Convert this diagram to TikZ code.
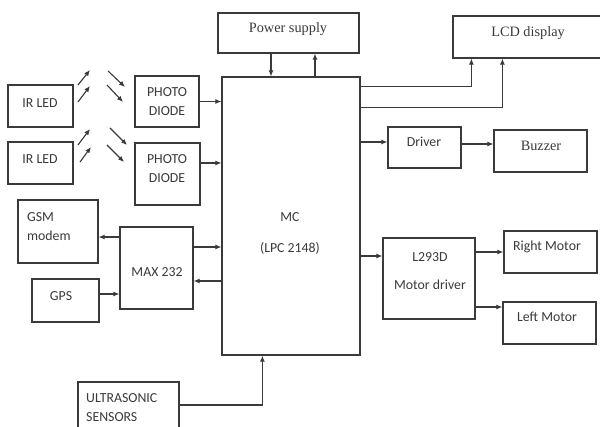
\documentclass[tikz,border=0pt]{standalone}
\usepackage{fontspec}
\setmainfont{Liberation Serif}
\newfontfamily\carl{Carlito}
\usetikzlibrary{arrows.meta}
\definecolor{ink}{HTML}{3A3A3A}
\tikzset{
  box/.style={draw=ink, line width=1.2pt, rectangle, inner sep=0pt},
  arr/.style={draw=ink, line width=1.1pt, -{Latex[length=6pt,width=5pt]}},
  ray/.style={draw=ink, line width=1.1pt, -{Latex[length=6pt,width=5pt]}},
  sans/.style={text=ink, font=\carl\fontsize{13.8}{19}\selectfont, inner sep=0pt, align=center},
  serif/.style={text=ink, font=\fontsize{14.3}{17}\selectfont, inner sep=0pt},
}
\begin{document}
\begin{tikzpicture}[x=1pt,y=-1pt]
\useasboundingbox (0,0) rectangle (600,427);
\fill[white] (0,0) rectangle (600,427);

% boxes
\node[box, minimum width=141pt, minimum height=40pt] (ps) at (288.5,33) {};
\node[box, minimum width=149pt, minimum height=42pt] (lcd) at (527.5,37) {};
\node[box, minimum width=138pt, minimum height=278pt] (mc) at (291,216) {};
\node[box, minimum width=65pt, minimum height=42pt] (ir1) at (40.5,106) {};
\node[box, minimum width=65pt, minimum height=42pt] (ir2) at (40.5,163) {};
\node[box, minimum width=64pt, minimum height=51pt] (pd1) at (167,101.5) {};
\node[box, minimum width=65pt, minimum height=62pt] (pd2) at (167.5,174) {};
\node[box, minimum width=80pt, minimum height=63pt] (gsm) at (58,231.5) {};
\node[box, minimum width=73pt, minimum height=82pt] (max) at (156.5,268) {};
\node[box, minimum width=67pt, minimum height=43pt] (gps) at (65.5,300.5) {};
\node[box, minimum width=73pt, minimum height=41pt] (drv) at (424.5,147.5) {};
\node[box, minimum width=93pt, minimum height=42pt] (buz) at (540.5,151) {};
\node[box, minimum width=92pt, minimum height=81pt] (l293) at (429,278.5) {};
\node[box, minimum width=93pt, minimum height=42pt] (rm) at (550.5,252) {};
\node[box, minimum width=93pt, minimum height=42pt] (lm) at (549.5,323) {};
\node[box, minimum width=101pt, minimum height=53pt] (us) at (128.5,408.5) {};

% texts
\node[serif] (tps) at (288,29) {Power supply};
\node[serif] (tlcd) at (528,33) {LCD display};
\node[serif] (tbuz) at (541,146) {Buzzer};
\node[sans] (tmc1) at (290,217) {MC};
\node[sans] (tmc2) at (290,248) {(LPC 2148)};
\node[sans] (tir1) at (40,103) {IR LED};
\node[sans] (tir2) at (40,159) {IR LED};
\node[sans] (tpd1) at (167,101.5) {PHOTO\\DIODE};
\node[sans] (tpd2) at (167,168.5) {PHOTO\\DIODE};
\node[sans, align=left, anchor=west] (tgsm) at (27,227) {GSM\\modem};
\node[sans] (tmax) at (157,272) {MAX 232};
\node[sans] (tgps) at (61,296) {GPS};
\node[sans] (tdrv) at (424,142) {Driver};
\node[sans] (tl1) at (430,257) {L293D};
\node[sans] (tl2) at (430,285) {Motor driver};
\node[sans] (trm) at (547,247) {Right Motor};
\node[sans] (tlm) at (547,317) {Left Motor};
\node[sans, align=left, anchor=west] (tus) at (86,407.5) {ULTRASONIC\\SENSORS};

% connectors
\draw[arr] ([xshift=-17.5pt]ps.south) -- ([xshift=-17.5pt]ps.south |- mc.north);
\draw[arr] ([xshift=26.5pt]ps.south |- mc.north) -- ([xshift=26.5pt]ps.south);
\draw[arr] ([yshift=-10pt]mc.north east) -| ([xshift=19pt]lcd.south west);
\draw[arr] ([yshift=-31pt]mc.north east) -| ([xshift=50pt]lcd.south west);
\draw[arr] (pd1.east) -- (pd1.east -| mc.west);
\draw[arr] ([yshift=11pt]pd2.east) -- ([yshift=11pt]pd2.east -| mc.west);
\draw[arr] ([yshift=5.5pt]drv.west -| mc.east) -- ([yshift=5.5pt]drv.west);
\draw[arr] ([yshift=7pt]buz.west -| drv.east) -- ([yshift=7pt]buz.west);
\draw[arr] ([yshift=22.5pt]l293.west -| mc.east) -- ([yshift=22.5pt]l293.west);
\draw[arr] (rm.west -| l293.east) -- (rm.west);
\draw[arr] ([yshift=16pt]lm.west -| l293.east) -- ([yshift=16pt]lm.west);
\draw[arr] ([yshift=-5.5pt]gsm.east -| max.west) -- ([yshift=-5.5pt]gsm.east);
\draw[arr] ([yshift=6.5pt]gps.east) -- ([yshift=6.5pt]gps.east -| max.west);
\draw[arr] ([yshift=21pt]max.east) -- ([yshift=21pt]max.east -| mc.west);
\draw[arr] ([yshift=-13pt]max.east -| mc.west) -- ([yshift=-13pt]max.east);
\draw[arr] ([yshift=3.5pt]us.east) -| ([xshift=41pt]mc.south west);

% light rays
\draw[ray] (78,85) -- (90,70);
\draw[ray] (78,102) -- (90,86);
\draw[ray] (108,71) -- (125,87);
\draw[ray] (107,85) -- (123,102);
\draw[ray] (78,145) -- (90,129);
\draw[ray] (80,162) -- (91,147);
\draw[ray] (110,128) -- (127,145);
\draw[ray] (107,145) -- (124,162);
\end{tikzpicture}
\end{document}
